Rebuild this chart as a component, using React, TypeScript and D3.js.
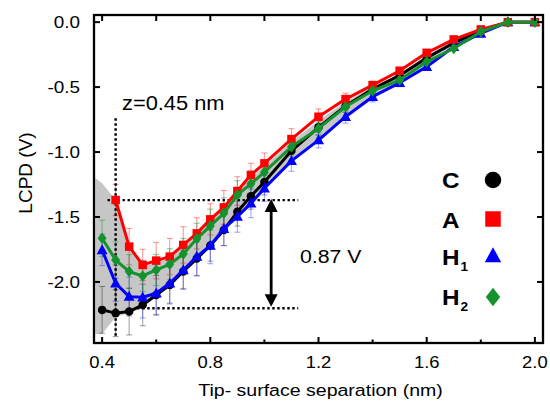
import React from "react";
import * as d3 from "d3";

// ---------- data ----------
const xFull = [0.4, 0.45, 0.5, 0.55, 0.6, 0.65, 0.7, 0.75, 0.8, 0.85, 0.9, 0.95, 1.0, 1.1, 1.2, 1.3, 1.4, 1.5, 1.6, 1.7, 1.8, 1.9, 2.0];
const xA = [0.45, 0.5, 0.55, 0.6, 0.65, 0.7, 0.75, 0.8, 0.85, 0.9, 0.95, 1.0, 1.1, 1.2, 1.3, 1.4, 1.5, 1.6, 1.7, 1.8, 1.9, 2.0];

const valuesC = [-2.215, -2.24, -2.228, -2.177, -2.1, -2.023, -1.92, -1.82, -1.72, -1.6, -1.46, -1.34, -1.23, -0.99, -0.81, -0.645, -0.515, -0.41, -0.275, -0.16, -0.065, 0, 0];
const errC = [0.18, 0.18, 0.18, 0.16, 0.15, 0.14, 0.13, 0.13, 0.12, 0.12, 0.11, 0.1, 0.1, 0.08, 0.06, 0.05, 0.04, 0.03, 0.02, 0.01, 0, 0, 0];

const valuesA = [-1.369, -1.728, -1.869, -1.836, -1.805, -1.715, -1.626, -1.518, -1.426, -1.3, -1.177, -1.087, -0.9, -0.728, -0.592, -0.485, -0.374, -0.236, -0.133, -0.056, 0, 0];
const errA = [0.12, 0.14, 0.12, 0.14, 0.14, 0.14, 0.12, 0.12, 0.13, 0.11, 0.09, 0.08, 0.08, 0.06, 0.045, 0.03, 0.02, 0.01, 0.01, 0, 0, 0];

const valuesH1 = [-1.754, -2.01, -2.113, -2.118, -2.087, -2.01, -1.908, -1.805, -1.72, -1.59, -1.497, -1.395, -1.279, -1.068, -0.908, -0.728, -0.574, -0.467, -0.344, -0.19, -0.087, 0, 0];
const errH1 = [0.12, 0.14, 0.15, 0.16, 0.17, 0.16, 0.15, 0.15, 0.14, 0.13, 0.12, 0.11, 0.1, 0.08, 0.06, 0.05, 0.04, 0.03, 0.02, 0.01, 0, 0, 0];

const valuesH2 = [-1.664, -1.831, -1.92, -1.954, -1.908, -1.864, -1.785, -1.668, -1.569, -1.472, -1.33, -1.245, -1.155, -0.959, -0.818, -0.651, -0.528, -0.446, -0.305, -0.203, -0.074, 0, 0];
const errH2 = [0.14, 0.14, 0.13, 0.12, 0.12, 0.12, 0.12, 0.12, 0.13, 0.12, 0.11, 0.1, 0.09, 0.07, 0.05, 0.04, 0.03, 0.02, 0.01, 0.01, 0, 0, 0];

const bandX = [0.375, 0.4, 0.45, 0.5, 0.55, 0.6, 0.65, 0.7, 0.75, 0.8, 0.85, 0.9, 0.95, 1.0, 1.1, 1.2, 1.3, 1.4, 1.5, 1.6, 1.7, 1.8, 1.9, 2.0];
const bandUpper = [-1.2, -1.24, -1.37, -1.74, -1.88, -1.85, -1.82, -1.73, -1.64, -1.53, -1.44, -1.31, -1.2, -1.11, -0.92, -0.76, -0.61, -0.5, -0.4, -0.26, -0.16, -0.06, 0, 0];
const bandLower = [-2.4, -2.4, -2.27, -2.24, -2.19, -2.1, -2.02, -1.91, -1.81, -1.72, -1.59, -1.49, -1.39, -1.27, -1.06, -0.9, -0.72, -0.57, -0.46, -0.34, -0.19, -0.09, 0, 0];

const xMajorTicks = [0.4, 0.8, 1.2, 1.6, 2.0];
const xMinorTicks = [0.6, 1.0, 1.4, 1.8];
const yTicks = [0, -0.5, -1.0, -1.5, -2.0];

const zMarker = 0.45;
const zMarkerTop = -0.74;
const zMarkerBottom = -2.42;
const refHigh = -1.37;
const refLow = -2.202;
const refStartHigh = 0.42;
const refStartLow = 0.53;
const refEnd = 1.125;
const arrowX = 1.025;

const seriesNames = ["C", "A", "H1", "H2"];

// ---------- layout ----------
const W = 550;
const H = 401;
const L = 94, R = 543, T = 15, B = 343;
const FONT = "'Liberation Sans', Arial, Helvetica, sans-serif";

const x = d3.scaleLinear().domain([0.37, 2.03]).range([L, R]);
const y = d3.scaleLinear().domain([-2.47, 0.055]).range([B, T]);

type Shape = "circle" | "square" | "triangle" | "diamond";

function markerPath(shape: Shape, cx: number, cy: number, s: number): string {
  if (shape === "square") {
    const h = s / 2;
    return `M${cx - h},${cy - h}H${cx + h}V${cy + h}H${cx - h}Z`;
  }
  if (shape === "triangle") {
    const w = s * 1.1, hh = s * 1.0;
    return `M${cx},${cy - hh * 0.58}L${cx + w / 2},${cy + hh * 0.42}L${cx - w / 2},${cy + hh * 0.42}Z`;
  }
  if (shape === "diamond") {
    const w = s * 0.9, hh = s * 1.15;
    return `M${cx},${cy - hh / 2}L${cx + w / 2},${cy}L${cx},${cy + hh / 2}L${cx - w / 2},${cy}Z`;
  }
  const r = s / 2;
  return `M${cx - r},${cy}a${r},${r} 0 1,0 ${2 * r},0a${r},${r} 0 1,0 ${-2 * r},0Z`;
}

const series = [
  { name: seriesNames[0], xs: xFull, ys: valuesC, err: errC, color: "#000000", errColor: "rgba(0,0,0,0.35)", shape: "circle" as Shape, size: 8.5 },
  { name: seriesNames[2], xs: xFull, ys: valuesH1, err: errH1, color: "#0000ff", errColor: "rgba(40,40,255,0.4)", shape: "triangle" as Shape, size: 10 },
  { name: seriesNames[1], xs: xA, ys: valuesA, err: errA, color: "#ff0000", errColor: "rgba(255,0,0,0.4)", shape: "square" as Shape, size: 8.5 },
  { name: seriesNames[3], xs: xFull, ys: valuesH2, err: errH2, color: "#14922e", errColor: "rgba(20,146,46,0.45)", shape: "diamond" as Shape, size: 10 },
];

function SText(props: { x: number; y: number; size: number; sx?: number; anchor?: string; weight?: string; children: React.ReactNode }) {
  const sx = props.sx ?? 1.15;
  return (
    <text
      transform={`translate(${props.x},${props.y}) scale(${sx},1)`}
      fontSize={props.size}
      fontFamily={FONT}
      fontWeight={props.weight ?? "normal"}
      textAnchor={props.anchor ?? "start"}
      fill="#000"
    >
      {props.children}
    </text>
  );
}

export default function App() {
  const line = d3.line<[number, number]>().x((d) => x(d[0])).y((d) => y(d[1]));
  const band = d3
    .area<number>()
    .x((_, i) => x(bandX[i]))
    .y0((_, i) => y(bandLower[i]))
    .y1((_, i) => y(bandUpper[i]));

  const legendItems = [
    { label: "C", sub: "", shape: "circle" as Shape, color: "#000000", ty: 188, my: 180, ms: 16.5 },
    { label: "A", sub: "", shape: "square" as Shape, color: "#ff0000", ty: 228, my: 219, ms: 15.5 },
    { label: "H", sub: "1", shape: "triangle" as Shape, color: "#0000ff", ty: 265, my: 256, ms: 15 },
    { label: "H", sub: "2", shape: "diamond" as Shape, color: "#14922e", ty: 305, my: 297, ms: 16 },
  ];

  return (
    <svg width={W} height={H} style={{ position: "absolute", left: 0, top: 0, background: "#fff" }}>
      <rect x={0} y={0} width={W} height={H} fill="#fff" />
      <defs>
        <clipPath id="plotclip">
          <rect x={L} y={T} width={R - L} height={B - T} />
        </clipPath>
      </defs>

      {/* gray band */}
      <path d={band(bandX.map((_, i) => i)) || ""} fill="#c6c6c6" clipPath="url(#plotclip)" />

      {/* error bars */}
      {series.map((s) => (
        <g key={"e" + s.name} stroke={s.errColor} strokeWidth={1.1}>
          {s.xs.map((xv, i) => {
            const e = s.err[i];
            if (!e) return null;
            const cx = x(xv);
            const y1 = y(s.ys[i] + e);
            const y2 = y(s.ys[i] - e);
            return (
              <g key={i}>
                <line x1={cx} x2={cx} y1={y1} y2={y2} />
                <line x1={cx - 3} x2={cx + 3} y1={y1} y2={y1} />
                <line x1={cx - 3} x2={cx + 3} y1={y2} y2={y2} />
              </g>
            );
          })}
        </g>
      ))}

      {/* dotted reference lines */}
      <g stroke="#000" strokeWidth={2.4} strokeDasharray="2.4 2.6" fill="none">
        <line x1={x(zMarker)} x2={x(zMarker)} y1={y(zMarkerTop)} y2={y(zMarkerBottom)} />
        <line x1={x(refStartHigh)} x2={x(refEnd)} y1={y(refHigh)} y2={y(refHigh)} />
        <line x1={x(refStartLow)} x2={x(refEnd)} y1={y(refLow)} y2={y(refLow)} />
      </g>

      {/* series lines + markers */}
      {series.map((s) => (
        <g key={"s" + s.name}>
          <path
            d={line(s.xs.map((xv, i) => [xv, s.ys[i]] as [number, number])) || ""}
            fill="none"
            stroke={s.color}
            strokeWidth={3}
            strokeLinejoin="round"
          />
          {s.xs.map((xv, i) => (
            <path key={i} d={markerPath(s.shape, x(xv), y(s.ys[i]), s.size)} fill={s.color} />
          ))}
        </g>
      ))}

      {/* double arrow */}
      <g>
        <line x1={x(arrowX)} x2={x(arrowX)} y1={y(refHigh) + 10} y2={y(refLow) - 10} stroke="#000" strokeWidth={2.8} />
        <path
          d={`M${x(arrowX)},${y(refHigh) - 1}L${x(arrowX) + 6.5},${y(refHigh) + 12}L${x(arrowX) - 6.5},${y(refHigh) + 12}Z`}
          fill="#000"
        />
        <path
          d={`M${x(arrowX)},${y(refLow) - 1.5}L${x(arrowX) + 6.5},${y(refLow) - 14}L${x(arrowX) - 6.5},${y(refLow) - 14}Z`}
          fill="#000"
        />
      </g>

      {/* frame */}
      <rect x={L} y={T} width={R - L} height={B - T} fill="none" stroke="#000" strokeWidth={2.3} />

      {/* ticks */}
      <g stroke="#000" strokeWidth={2}>
        {yTicks.map((t) => (
          <g key={"yt" + t}>
            <line x1={L} x2={L + 6} y1={y(t)} y2={y(t)} />
            <line x1={R} x2={R - 6} y1={y(t)} y2={y(t)} />
          </g>
        ))}
        {xMajorTicks.map((t) => (
          <g key={"xm" + t}>
            <line x1={x(t)} x2={x(t)} y1={B} y2={B - 6} />
            <line x1={x(t)} x2={x(t)} y1={T} y2={T + 6} />
          </g>
        ))}
        {xMinorTicks.map((t) => (
          <g key={"xn" + t}>
            <line x1={x(t)} x2={x(t)} y1={B} y2={B - 3.5} />
            <line x1={x(t)} x2={x(t)} y1={T} y2={T + 6} />
          </g>
        ))}
      </g>

      {/* tick labels */}
      {yTicks.map((t) => (
        <SText key={"yl" + t} x={80} y={y(t) + 6} size={16} sx={1.18} anchor="end">
          {d3.format(".1f")(t).replace("−", "-")}
        </SText>
      ))}
      {xMajorTicks.map((t) => (
        <SText key={"xl" + t} x={x(t)} y={368} size={16} sx={1.15} anchor="middle">
          {d3.format(".1f")(t)}
        </SText>
      ))}

      {/* axis titles */}
      <SText x={320.5} y={396} size={17} sx={1.15} anchor="middle">
        Tip- surface separation (nm)
      </SText>
      <text
        transform={`translate(32,173) rotate(-90)`}
        fontSize={19}
        fontFamily={FONT}
        textAnchor="middle"
        fill="#000"
      >
        LCPD (V)
      </text>

      {/* annotations */}
      <SText x={122} y={110} size={19.5} sx={1.12}>z=0.45 nm</SText>
      <SText x={300} y={263} size={19} sx={1.12}>0.87 V</SText>

      {/* legend */}
      {legendItems.map((it) => (
        <g key={"lg" + it.label + it.sub}>
          <SText x={442} y={it.ty} size={22.5} sx={1.08} weight="bold">
            {it.label}
          </SText>
          {it.sub && (
            <SText x={460.5} y={it.ty + 6} size={13} sx={1.05} weight="bold">
              {it.sub}
            </SText>
          )}
          <path d={markerPath(it.shape, 493, it.my, it.ms)} fill={it.color} />
        </g>
      ))}
    </svg>
  );
}
